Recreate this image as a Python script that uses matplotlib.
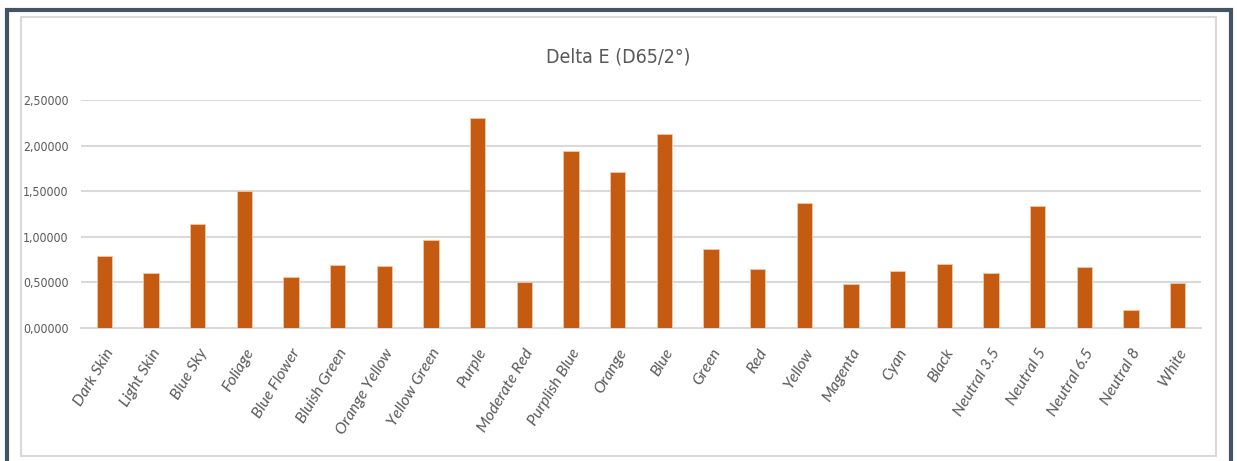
import numpy as np
import matplotlib.pyplot as plt
from matplotlib.patches import Rectangle
from matplotlib.ticker import FuncFormatter

# Delta E per patch of the colour checker
patches = ['Dark Skin', 'Light Skin', 'Blue Sky', 'Foliage', 'Blue Flower',
           'Bluish Green', 'Orange Yellow', 'Yellow Green', 'Purple',
           'Moderate Red', 'Purplish Blue', 'Orange', 'Blue', 'Green', 'Red',
           'Yellow', 'Magenta', 'Cyan', 'Black', 'Neutral 3.5', 'Neutral 5',
           'Neutral 6.5', 'Neutral 8', 'White']
delta_e = [0.79, 0.60, 1.14, 1.50, 0.56, 0.69, 0.68, 0.97, 2.30, 0.50, 1.94,
           1.71, 2.13, 0.87, 0.65, 1.37, 0.48, 0.625, 0.70, 0.60, 1.34, 0.67,
           0.20, 0.49]
y_ticks = [0.0, 0.5, 1.0, 1.5, 2.0, 2.5]

plt.rcParams['font.family'] = ['DejaVu Sans']
plt.rcParams['font.stretch'] = 'condensed'
texte = '#595959'
grille = '#d9d9d9'

fig = plt.figure(figsize=(12.37, 4.61), dpi=100)
ax = fig.add_axes([81 / 1237, 1 - 328 / 461, 1120 / 1237, 228 / 461])

# cadre extérieur + bordure du graphique
fig.patches.append(Rectangle((7.5 / 1237, -0.05), 1223 / 1237, 1.05 - 10.5 / 461,
                             transform=fig.transFigure, fill=False,
                             edgecolor='#455462', linewidth=3))
fig.patches.append(Rectangle((21 / 1237, 1 - 456 / 461), 1195 / 1237, 439 / 461,
                             transform=fig.transFigure, fill=False,
                             edgecolor=grille, linewidth=1.5))

x = np.arange(len(patches))
ax.bar(x, delta_e, width=0.33, color='#c55a11', edgecolor='#f4c7a8',
       linewidth=0.6, zorder=3)

ax.set_xlim(-0.5, len(patches) - 0.5)
ax.set_ylim(0, 2.5)
ax.set_yticks(y_ticks)
ax.yaxis.set_major_formatter(FuncFormatter(lambda v, p: f"{v:.5f}".replace('.', ',')))
ax.grid(axis='y', color=grille, linewidth=1.5, zorder=0)
ax.set_axisbelow(True)
for s in ['top', 'right', 'left']:
    ax.spines[s].set_visible(False)
ax.spines['bottom'].set_color(grille)
ax.spines['bottom'].set_linewidth(1.5)
ax.tick_params(axis='both', length=0, colors=texte, labelsize=8.8)
ax.tick_params(axis='y', pad=9)

# étiquettes en italique (Lato, DejaVu condensé n'a pas d'italique)
ax.set_xticks(x)
ax.set_xticklabels(patches, rotation=59, ha='right', rotation_mode='anchor',
                   family=['Lato', 'DejaVu Sans'], stretch='normal',
                   style='italic', fontsize=11.5, color=texte)
ax.tick_params(axis='x', pad=13)

fig.text(618 / 1237, 1 - 57 / 461, 'Delta E (D65/2°)', ha='center', va='center',
         fontsize=14, color=texte)

fig.savefig('out.png', dpi=100)
